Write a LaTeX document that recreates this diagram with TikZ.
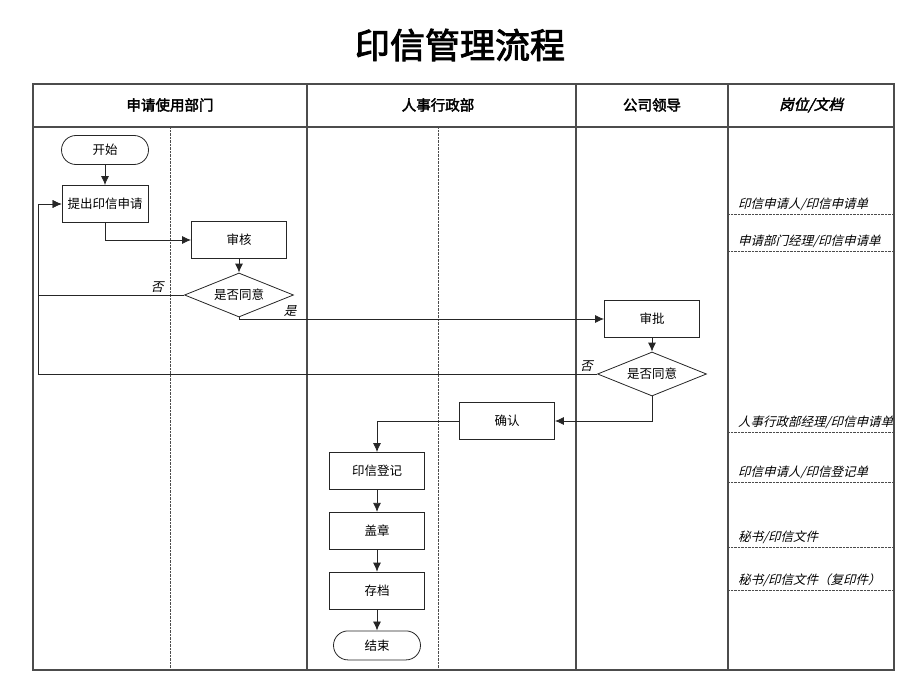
\documentclass[tikz,border=0pt]{standalone}
\usepackage{fontspec}
\setmainfont{Noto Sans CJK SC}[AutoFakeSlant=0.25]
\newfontfamily\hdfont{Noto Sans CJK SC}[FakeBold=2.5,AutoFakeSlant=0.25]
\usetikzlibrary{positioning,shapes.geometric,arrows.meta}

\begin{document}
\begin{tikzpicture}[x=1pt,y=-1pt,
  proc/.style={rectangle, draw=black!85, thick, minimum width=95pt, minimum height=37pt, inner sep=1pt, font=\fontsize{12.5}{14}\selectfont},
  term/.style={rectangle, rounded corners=14.5pt, draw=black!85, thick, minimum width=87pt, minimum height=29pt, inner sep=1pt, font=\fontsize{12.5}{14}\selectfont},
  dec/.style={diamond, draw=black!85, thick, aspect=2.5, inner sep=0pt, minimum width=109pt, minimum height=44pt, font=\fontsize{12.5}{14}\selectfont},
  head/.style={font=\hdfont\fontsize{14.5}{16}\selectfont},
  doc/.style={anchor=west, inner sep=0pt, font=\itshape\fontsize{12.5}{14}\selectfont},
  lbl/.style={font=\itshape\fontsize{12.5}{14}\selectfont, inner sep=2pt},
  lane/.style={draw=black!70, line width=1.3pt},
  sep/.style={draw=black!70, densely dotted, thin},
  arr/.style={draw=black!85, thick, -{Latex[length=9pt,width=8pt]}},
  wire/.style={draw=black!85, thick},
  node distance=22pt]
\useasboundingbox (0,0) rectangle (920,690);

%Title
\node[font=\hdfont\fontsize{35}{38}\selectfont] (title) at (460,45) {印信管理流程};

%Lanes
\draw[lane] (33,84) rectangle (894,670);
\draw[lane] (33,127) -- (894,127);
\foreach \x in {307,576,728}
  \draw[lane] (\x,84) -- (\x,670);
\foreach \x in {170,438}
  \draw[sep] (\x,127) -- (\x,670);

\node[head] (h1) at (170,105) {申请使用部门};
\node[head] (h2) at (438,105) {人事行政部};
\node[head] (h3) at (652,105) {公司领导};
\node[head, font=\hdfont\itshape\fontsize{14.5}{16}\selectfont] (h4) at (811,105) {岗位/文档};

%Nodes
\node[term] (start) at (105,150) {开始};
\node[proc, minimum width=86pt] (apply) at (105,204) {提出印信申请};
\node[proc] (review) at (239,240) {审核};
\node[dec] (ok1) at (239,295) {是否同意};
\node[proc] (approve) at (652,319) {审批};
\node[dec] (ok2) at (652,374) {是否同意};
\node[proc] (confirm) at (507,421) {确认};
\node[proc] (register) at (377,471) {印信登记};
\node[proc] (stamp) [below=of register] {盖章};
\node[proc] (archive) [below=of stamp] {存档};
\node[term] (stop) [below=21pt of archive] {结束};
\coordinate (lft) at (38,0);

%Documents
\foreach \y/\t [count=\i] in {204/{印信申请人/印信申请单}, 241/{申请部门经理/印信申请单}, 422/{人事行政部经理/印信申请单}, 472/{印信申请人/印信登记单}, 537/{秘书/印信文件}, 580/{秘书/印信文件（复印件）}}{
  \node[doc] (d\i) at (738,\y) {\t};
  \draw[sep] (728,\y+10) -- (894,\y+10);
}

%Lines
\draw[arr] (start) -- (apply);
\draw[arr] (apply.south) |- (review.west);
\draw[arr] (review) -- (ok1);
\draw[arr] (ok1.west) -- node[lbl, above, pos=0.185] {否} (ok1.west -| lft) |- (apply.west);
\draw[arr] (ok1.south) |- node[lbl, above, pos=0.57] {是} (approve.west);
\draw[arr] (approve) -- (ok2);
\draw[arr] (ok2.west) -- node[lbl, above left, pos=0, xshift=-2pt] {否} (ok2.west -| lft) |- (apply.west);
\draw[arr] (ok2.south) |- (confirm.east);
\draw[arr] (confirm.west) -| (register.north);
\draw[arr] (register) -- (stamp);
\draw[arr] (stamp) -- (archive);
\draw[arr] (archive) -- (stop);

\end{tikzpicture}
\end{document}
